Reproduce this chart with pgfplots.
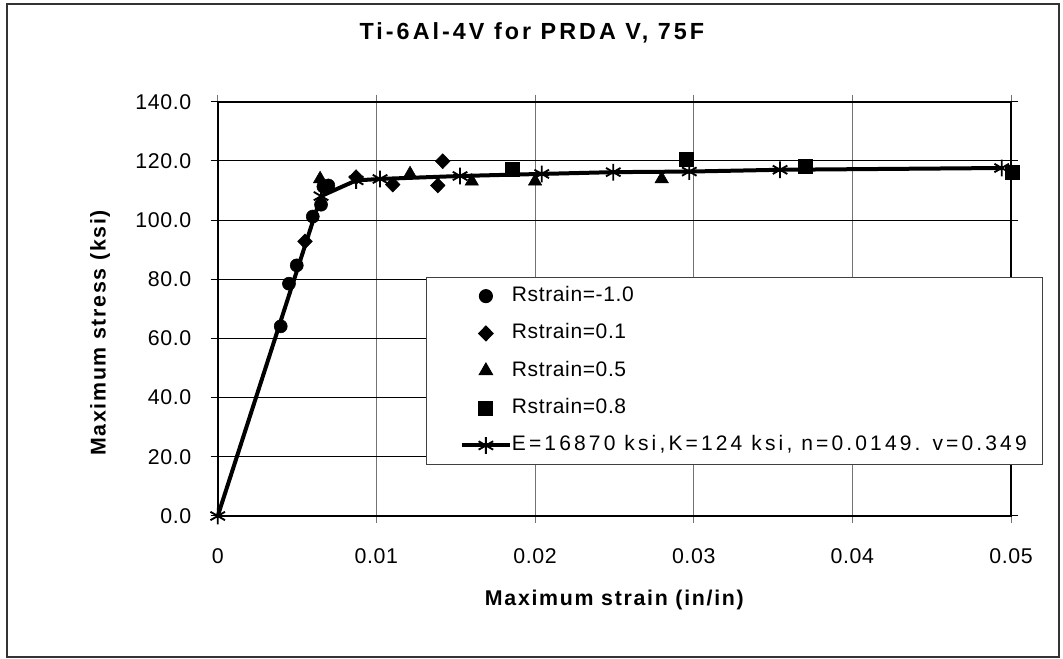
\documentclass[border=0pt]{standalone}
\usepackage{pgfplots}
\pgfplotsset{compat=1.18}
\usepackage{fontspec}
\setmainfont{Liberation Sans}[LetterSpace=3]
\newfontfamily\titlefont{Liberation Sans Bold}[LetterSpace=13]
\newfontfamily\labelfont{Liberation Sans Bold}[LetterSpace=8]
\newfontfamily\legwide{Liberation Sans}[LetterSpace=15]
\begin{document}
\begin{tikzpicture}
\path (0pt,0pt) rectangle (797.25pt,494.25pt);
\draw[black!80, line width=1.5pt] (5.25pt,1.5pt) rectangle (794.25pt,491.25pt);
\begin{axis}[
  at={(163.3pt,107.25pt)}, anchor=south west,
  scale only axis, width=595pt, height=310.7pt,
  xmin=0, xmax=0.05, ymin=0, ymax=140,
  clip=false,
  scaled x ticks=false, scaled y ticks=false,
  xtick={0,0.01,0.02,0.03,0.04,0.05},
  xticklabels={0,0.01,0.02,0.03,0.04,0.05},
  ytick={0,20,40,60,80,100,120,140},
  yticklabels={0.0,20.0,40.0,60.0,80.0,100.0,120.0,140.0},
  /pgf/number format/assume math mode=true,
  tick label style={font=\fontsize{16}{18}\selectfont},
  xticklabel style={yshift=-16pt},
  yticklabel style={xshift=-11pt},
  tick align=outside,
  major tick length=5.25pt,
  x tick style={black!55, line width=0.75pt},
  y tick style={black, line width=0.75pt},
  xmajorgrids, ymajorgrids,
  x grid style={black!55, line width=0.75pt},
  y grid style={black, line width=0.75pt},
  axis line style={black, line width=1.2pt},
  title={\titlefont Ti-6Al-4V for PRDA V, 75F},
  title style={font=\fontsize{17.5}{20}\selectfont, at={(axis description cs:0.396,1.1465)}, anchor=center},
  xlabel={\labelfont Maximum strain (in/in)},
  xlabel style={font=\fontsize{16}{18}\selectfont, at={(axis description cs:0.5,-0.2028)}, anchor=center},
  ylabel={\labelfont Maximum stress (ksi)},
  ylabel style={font=\fontsize{16}{18}\selectfont, at={(axis description cs:-0.1484,0.442)}, anchor=center},
  legend image code/.code={\path (-13.5pt,0pt); \draw[mark repeat=2,mark phase=2,#1] plot coordinates {(0pt,0pt)(18pt,0pt)(36pt,0pt)};},
  legend cell align=left,
  legend style={at={(0.2626,0.577)}, anchor=north west, draw=black!75, line width=0.75pt,
    font=\fontsize{15.75}{18}\selectfont, inner xsep=11.5pt, inner ysep=7pt, row sep=14pt,
    nodes={text height=11pt, text depth=3pt, inner sep=0pt}},
]
\addplot[only marks, mark=*, mark size=4.9pt, black] coordinates {
(0.00397,64.1) (0.00449,78.5) (0.00498,84.7) (0.00599,101.2) (0.00651,105.2) (0.00666,111.3) (0.00697,111.7)
};
\addlegendentry{Rstrain=-1.0}
\addplot[only marks, mark=diamond*, mark size=5.6pt, mark options={xscale=1.3}, black] coordinates {
(0.00550,92.8) (0.00872,114.5) (0.01103,112.0) (0.01418,119.9) (0.01387,111.7)
};
\addlegendentry{Rstrain=0.1}
\addplot[only marks, mark=triangle*, mark size=5.8pt, black] coordinates {
(0.00645,113.9) (0.01212,115.6) (0.01601,113.1) (0.02000,113.1) (0.02798,113.9)
};
\addlegendentry{Rstrain=0.5}
\addplot[only marks, mark=square*, mark size=5.2pt, black] coordinates {
(0.01857,117.1) (0.02952,120.7) (0.03702,118.1) (0.05008,116.2)
};
\addlegendentry{Rstrain=0.8}
\addplot[black, line width=3pt, mark=asterisk, mark size=6.3pt, mark options={line width=1.4pt}] coordinates {
(0,0) (0.00651,108.1) (0.00872,113.4) (0.01023,113.9) (0.01527,114.9) (0.02042,115.6) (0.02493,116.2) (0.02972,116.4) (0.03544,117.0) (0.04941,117.6)
};
\addlegendentry{\legwide E=16870 ksi,K=124 ksi, n=0.0149. v=0.349}
\end{axis}
\end{tikzpicture}
\end{document}
